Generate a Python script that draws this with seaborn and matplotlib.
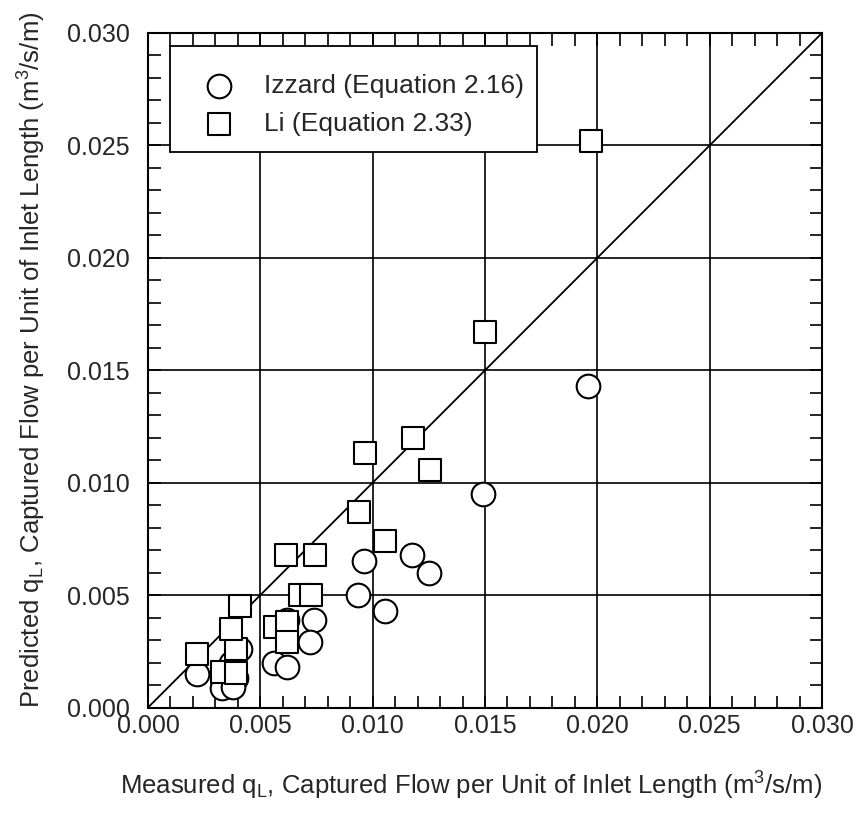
import numpy as np
import pandas as pd
import matplotlib
matplotlib.use("Agg")
import matplotlib.pyplot as plt
import seaborn as sns
from matplotlib.ticker import MultipleLocator, FormatStrFormatter
from matplotlib.patches import Rectangle

# Izzard (Equation 2.16) - circles
izzard_measured = [0.0022, 0.0033, 0.0041, 0.0037, 0.0039, 0.0038,
                   0.0062, 0.0074, 0.0072, 0.0056, 0.0062,
                   0.0096, 0.01175, 0.0125, 0.00935, 0.01055,
                   0.0149, 0.0196]
izzard_predicted = [0.0015, 0.00085, 0.0026, 0.0020, 0.0013, 0.0009,
                    0.0039, 0.0039, 0.0029, 0.0020, 0.0018,
                    0.0065, 0.0068, 0.0060, 0.0050, 0.0043,
                    0.0095, 0.0143]

# Li (Equation 2.33) - squares
li_measured = [0.0022, 0.0033, 0.0039, 0.0039, 0.0037, 0.0041,
               0.00567, 0.0062, 0.0062,
               0.0197, 0.0150, 0.0118, 0.01255, 0.00966, 0.00939,
               0.01053, 0.00743, 0.00614, 0.00677, 0.00725]
li_predicted = [0.0024, 0.0016, 0.0026, 0.00155, 0.0035, 0.0045,
                0.0036, 0.0038, 0.0029,
                0.0252, 0.0167, 0.0120, 0.01055, 0.0113, 0.0087,
                0.0074, 0.0068, 0.0068, 0.0050, 0.0050]

major_ticks = [0.000, 0.005, 0.010, 0.015, 0.020, 0.025, 0.030]

sns.set_theme(style="white")
plt.rcParams['font.family'] = ['Liberation Sans', 'DejaVu Sans']
plt.rcParams['mathtext.fontset'] = 'custom'
plt.rcParams['mathtext.rm'] = 'Liberation Sans'
plt.rcParams['mathtext.it'] = 'Liberation Sans:italic'

fig = plt.figure(figsize=(8.57, 8.14), dpi=100)
ax = fig.add_axes([0.1727, 0.1308, 0.7865, 0.8287])

df_i = pd.DataFrame({"measured": izzard_measured, "predicted": izzard_predicted})
df_l = pd.DataFrame({"measured": li_measured, "predicted": li_predicted})

sns.scatterplot(data=df_i, x="measured", y="predicted", marker="o", s=290,
                facecolor="white", edgecolor="black", linewidth=1.5,
                label="Izzard (Equation 2.16)", ax=ax, zorder=3)
sns.scatterplot(data=df_l, x="measured", y="predicted", marker="s", s=230,
                facecolor="white", edgecolor="black", linewidth=1.5,
                label="Li (Equation 2.33)", ax=ax, zorder=4)

ax.plot([0, 0.03], [0, 0.03], color="black", lw=1.3, zorder=2)

ax.set_xlim(0, 0.03)
ax.set_ylim(0, 0.03)
ax.set_xticks(major_ticks)
ax.set_yticks(major_ticks)
ax.xaxis.set_major_formatter(FormatStrFormatter('%.3f'))
ax.yaxis.set_major_formatter(FormatStrFormatter('%.3f'))
ax.xaxis.set_minor_locator(MultipleLocator(0.001))
ax.yaxis.set_minor_locator(MultipleLocator(0.001))
ax.tick_params(which='both', direction='in', top=True, right=True,
               bottom=True, left=True, color='black')
ax.tick_params(which='major', length=9, width=1.2, labelsize=18)
ax.tick_params(axis='x', which='major', pad=5)
ax.tick_params(axis='y', which='major', pad=13)
ax.tick_params(which='minor', length=9, width=1.2)
ax.grid(True, which='major', color='black', lw=1.2)
ax.set_axisbelow(True)
for s in ax.spines.values():
    s.set_color('black')
    s.set_linewidth(1.5)

ax.set_xlabel(r'Measured q$_\mathrm{L}$, Captured Flow per Unit of Inlet Length (m$^3$/s/m)',
              fontsize=18.5)
ax.set_ylabel(r'Predicted q$_\mathrm{L}$, Captured Flow per Unit of Inlet Length (m$^3$/s/m)',
              fontsize=18.5)
ax.xaxis.set_label_coords(0.479, -0.092)
ax.yaxis.set_label_coords(-0.148, 0.515)

# legend frame box
box = Rectangle((0.0326, 0.8236), 0.577 - 0.0326, 0.981 - 0.8236,
                transform=ax.transAxes, facecolor='white', edgecolor='black',
                linewidth=1.3, zorder=9, clip_on=False)
ax.add_patch(box)

leg = ax.legend(loc='upper left', bbox_to_anchor=(0.066, 0.939), fontsize=19,
                frameon=False, borderpad=0, handletextpad=0.7,
                labelspacing=0.53, borderaxespad=0)
leg.set_zorder(10)

fig.savefig("out.png", dpi=100)
